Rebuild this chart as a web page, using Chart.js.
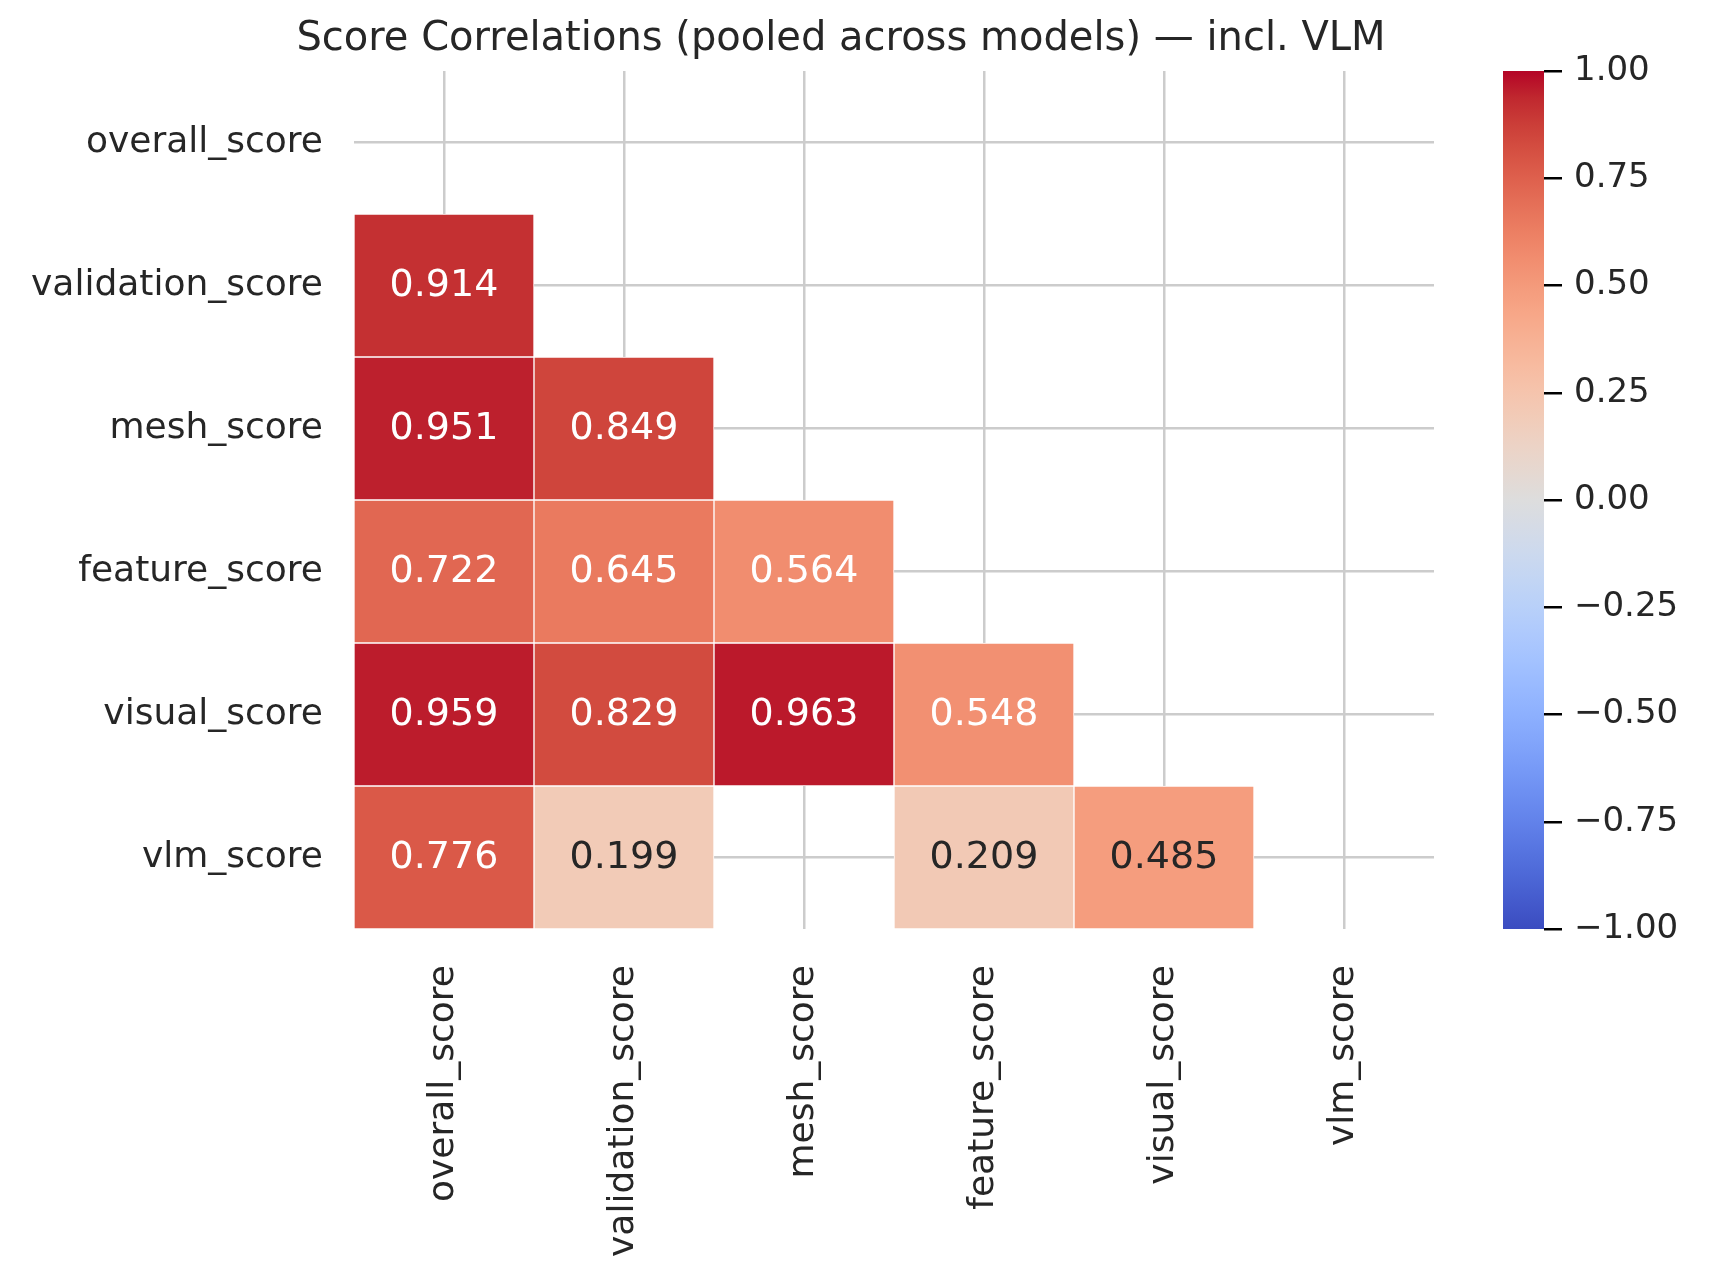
<!DOCTYPE html>
<html>
<head>
<meta charset="utf-8">
<script src="https://cdn.jsdelivr.net/npm/chart.js@4.4.1/dist/chart.umd.min.js"></script>
<style>
  html, body { margin: 0; padding: 0; background: #fff; }
  #wrap { position: relative; width: 1710px; height: 1284px; }
  #heat { position: absolute; left: 0; top: 0; }
  #cbar { position: absolute; left: 1480px; top: 0; }
</style>
</head>
<body>
<div id="wrap">
  <canvas id="heat" width="1710" height="1284"></canvas>
  <canvas id="cbar" width="230" height="1284"></canvas>
</div>
<script>
// Score correlations, lower triangle only (pooled across models)
const scoreNames = ['overall_score', 'validation_score', 'mesh_score', 'feature_score', 'visual_score', 'vlm_score'];

const corrOverall = [];
const corrValidation = [0.914];
const corrMesh = [0.951, 0.849];
const corrFeature = [0.722, 0.645, 0.564];
const corrVisual = [0.959, 0.829, 0.963, 0.548];
const corrVlm = [0.776, 0.199, null, 0.209, 0.485];

const corrRows = [corrOverall, corrValidation, corrMesh, corrFeature, corrVisual, corrVlm];

const cbarTicks = [-1, -0.75, -0.5, -0.25, 0, 0.25, 0.5, 0.75, 1];

const TEXT = '#262626';
const FONT = '"DejaVu Sans", "Liberation Sans", sans-serif';

// coolwarm (Moreland) sampled at 33 points
const coolwarmStops = [
  [59,76,192],[68,90,204],[77,104,215],[87,117,225],[98,130,234],[108,142,241],
  [119,154,247],[130,165,251],[141,176,254],[152,185,255],[163,194,255],[174,201,253],
  [184,208,249],[194,213,244],[204,217,238],[213,219,230],[221,221,221],[229,216,209],
  [236,211,198],[241,204,185],[245,196,173],[247,187,160],[247,177,148],[247,166,135],
  [244,154,123],[241,141,111],[236,127,99],[229,112,88],[222,96,77],[213,80,66],
  [203,62,56],[192,40,47],[180,4,38]
];

function coolwarmRgb(v) {
  const t = Math.min(1, Math.max(0, (v + 1) / 2)) * (coolwarmStops.length - 1);
  const i = Math.min(Math.floor(t), coolwarmStops.length - 2);
  const f = t - i;
  const a = coolwarmStops[i], b = coolwarmStops[i + 1];
  return a.map((x, k) => Math.round(x + (b[k] - x) * f));
}

function coolwarm(v) {
  const c = coolwarmRgb(v);
  return `rgb(${c[0]},${c[1]},${c[2]})`;
}

// same rule as seaborn: dark text on light cells
function textColor(v) {
  const lum = coolwarmRgb(v).map(x => {
    x = x / 255;
    return x <= 0.03928 ? x / 12.92 : Math.pow((x + 0.055) / 1.055, 2.4);
  });
  const l = 0.2126 * lum[0] + 0.7152 * lum[1] + 0.0722 * lum[2];
  return l > 0.408 ? TEXT : '#ffffff';
}

function cellValue(r, c) {
  const v = corrRows[r][c];
  return v === undefined ? null : v;
}

const datasets = corrRows.map((row, r) => ({
  label: scoreNames[r],
  data: scoreNames.map((_, c) => cellValue(r, c) === null ? null : [r, r + 1]),
  backgroundColor: scoreNames.map((_, c) => cellValue(r, c) === null ? 'rgba(0,0,0,0)' : coolwarm(cellValue(r, c))),
  borderColor: '#ffffff',
  borderWidth: 1,
  borderSkipped: false,
  grouped: false,
  barPercentage: 1,
  categoryPercentage: 1
}));

const cellText = {
  id: 'cellText',
  afterDatasetsDraw(chart) {
    const c = chart.ctx;
    c.save();
    c.font = '38px ' + FONT;
    c.textAlign = 'center';
    c.textBaseline = 'middle';
    chart.data.datasets.forEach((ds, r) => {
      const meta = chart.getDatasetMeta(r);
      meta.data.forEach((bar, col) => {
        const v = cellValue(r, col);
        if (v === null) return;
        const p = bar.getCenterPoint();
        c.fillStyle = textColor(v);
        c.fillText(v.toFixed(3), p.x, p.y + 1);
      });
    });
    c.restore();
  }
};

new Chart(document.getElementById('heat'), {
  type: 'bar',
  data: { labels: scoreNames, datasets: datasets },
  options: {
    responsive: false,
    devicePixelRatio: 1,
    animation: false,
    layout: { padding: { left: 0, right: 28, top: 0, bottom: 0 } },
    plugins: {
      legend: { display: false },
      tooltip: { enabled: false },
      title: {
        display: true,
        text: 'Score Correlations (pooled across models) \u2014 incl. VLM',
        color: TEXT,
        font: { family: FONT, size: 40, weight: 'normal' },
        padding: { top: 16, bottom: 7 }
      }
    },
    scales: {
      x: {
        type: 'category',
        offset: true,
        grid: { offset: false, color: '#cccccc', lineWidth: 2.5, drawTicks: false },
        border: { display: false },
        ticks: {
          color: TEXT,
          font: { family: FONT, size: 36 },
          minRotation: 90,
          maxRotation: 90,
          autoSkip: false,
          padding: 36
        },
        afterFit(scale) { scale.height = 355; }
      },
      y: {
        type: 'linear',
        min: 0,
        max: 6,
        reverse: true,
        grid: { color: '#cccccc', lineWidth: 2.5, drawTicks: false },
        border: { display: false },
        ticks: {
          color: TEXT,
          font: { family: FONT, size: 36 },
          autoSkip: false,
          padding: 31,
          callback: v => scoreNames[Math.floor(v)]
        },
        afterBuildTicks(scale) {
          scale.ticks = scoreNames.map((_, i) => ({ value: i + 0.5 }));
        },
        afterFit(scale) { scale.width = 354; }
      },
      // empty spacer on the right where the colour bar sits
      spacer: {
        type: 'linear',
        position: 'right',
        grid: { display: false },
        border: { display: false },
        ticks: { display: false },
        afterFit(scale) { scale.width = 248; }
      }
    }
  },
  plugins: [cellText]
});

// colour bar
new Chart(document.getElementById('cbar'), {
  type: 'bar',
  data: {
    labels: ['r'],
    datasets: [{
      data: [[-1, 1]],
      backgroundColor(ctx) {
        const area = ctx.chart.chartArea;
        if (!area) return null;
        const g = ctx.chart.ctx.createLinearGradient(0, area.bottom, 0, area.top);
        coolwarmStops.forEach((s, i) => g.addColorStop(i / (coolwarmStops.length - 1), `rgb(${s[0]},${s[1]},${s[2]})`));
        return g;
      },
      borderWidth: 0,
      barPercentage: 1,
      categoryPercentage: 1
    }]
  },
  options: {
    responsive: false,
    devicePixelRatio: 1,
    animation: false,
    layout: { padding: { left: 23, right: 0, top: 71, bottom: 355 } },
    plugins: { legend: { display: false }, tooltip: { enabled: false } },
    scales: {
      x: { display: false, offset: true },
      y: {
        position: 'right',
        min: -1,
        max: 1,
        grid: { drawOnChartArea: false, drawTicks: true, tickLength: 18, color: '#000000', lineWidth: 2.5 },
        border: { display: false },
        ticks: {
          color: TEXT,
          font: { family: FONT, size: 34 },
          padding: 12,
          autoSkip: false,
          callback: v => (v < 0 ? '\u2212' : '') + Math.abs(v).toFixed(2)
        },
        afterBuildTicks(scale) {
          scale.ticks = cbarTicks.map(v => ({ value: v }));
        },
        afterFit(scale) { scale.width = 166; }
      }
    }
  }
});
</script>
</body>
</html>
